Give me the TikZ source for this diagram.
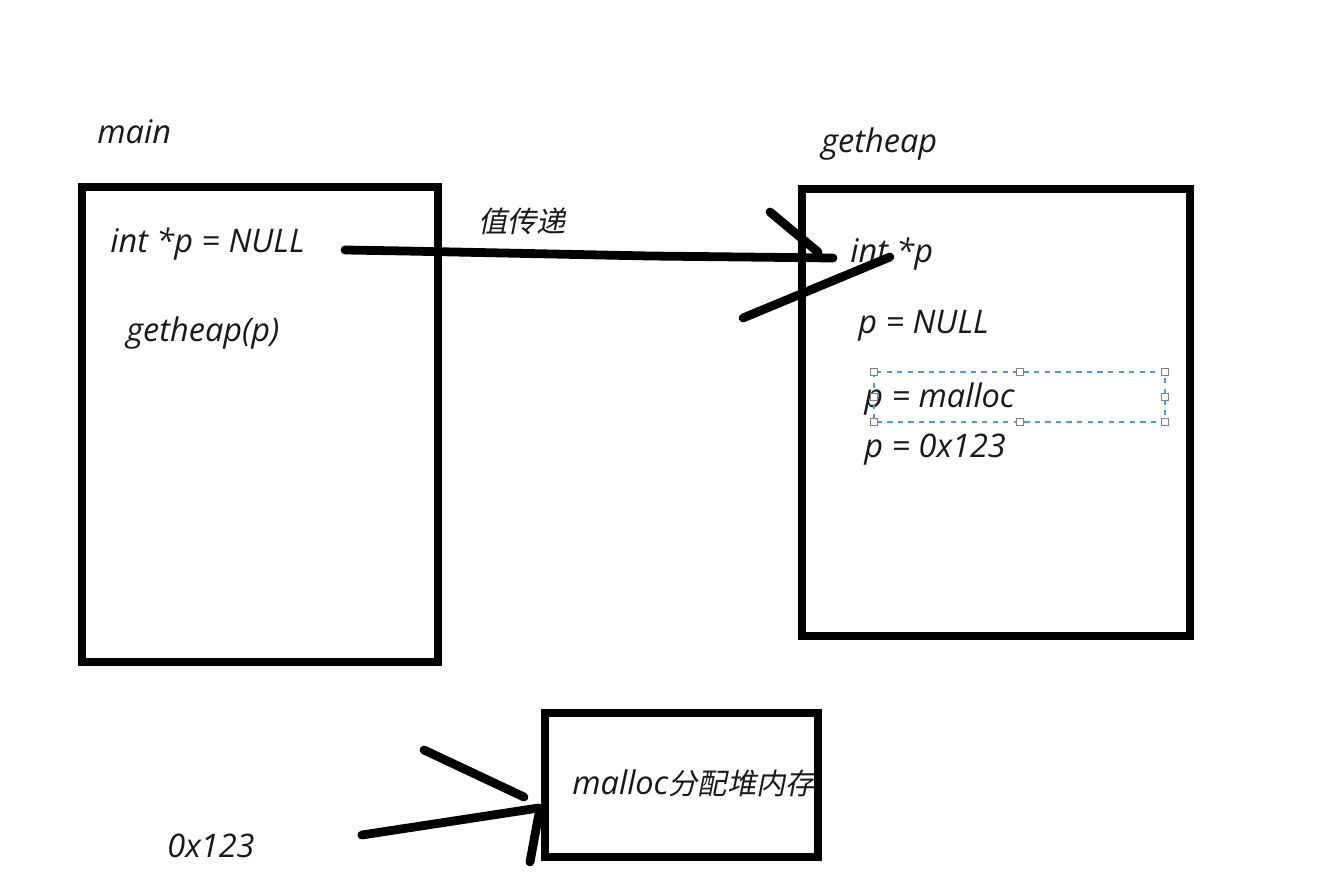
\documentclass[tikz,border=0pt]{standalone}
\usepackage{fontspec}
\setmainfont{Open Sans}
\newfontfamily\cjk[FakeSlant=0.2,Scale=0.9]{Noto Sans CJK SC}
\usetikzlibrary{calc}

\tikzset{
  txt/.style={font=\itshape\fontsize{18.5}{22}\selectfont, text=black!90, inner sep=0pt, anchor=west},
  frame/.style={draw, line width=5pt, inner sep=0pt},
  stroke/.style={line width=5pt, line cap=round, line join=round},
  handle/.style={draw=gray, fill=white, line width=0.5pt, minimum size=4pt, inner sep=0pt}
}

\begin{document}
\begin{tikzpicture}[x=0.02cm,y=-0.02cm]
  \useasboundingbox (0,0) rectangle (1340,882);

  % frames
  \node (mainbox) [frame, minimum width=7.12cm, minimum height=9.5cm] at (260,424.5) {};
  \node (getbox) [frame, minimum width=7.76cm, minimum height=8.94cm] at (996,412.5) {};

  % titles
  \node (mainlbl) [txt] at (97,132) {main};
  \node (getlbl) [txt] at (821,144) {getheap};

  % main
  \node (decl) [txt] at (110,244) {int *p = NULL};
  \node (call) [txt] at (126,333) {getheap(p)};

  % getheap
  \node (arg) [txt] at (850,254) {int *p};
  \node (pnull) [txt] at (858,326) {p = NULL};
  \node (pmal) [txt] at (864,399) {p = malloc};
  \node (paddr) [txt] at (864,450) {p = 0x123};

  % selection box
  \draw[cyan!60!blue!70, dashed, line width=0.8pt] (874,372) rectangle (1165,422);
  \foreach \x/\y in {874/372,1020/372,1165/372,874/397,1165/397,874/422,1020/422,1165/422}
    \node[handle] at (\x,\y) {};

  % heap
  \begin{scope}
    \clip (545,713) rectangle (818,857);
    \node (heaptxt) [txt] at (572,783) {malloc{\cjk 分配堆内存}};
  \end{scope}
  \node (heapbox) [frame, minimum width=5.46cm, minimum height=2.88cm] at (681.5,785) {};
  \node (addr) [txt] at (167,846) {0x123};

  \node (pass) [txt] at (478,221) {{\cjk 值传递}};

  % value passing arrow
  \coordinate (a0) at ($(decl.east)+(40,6)$);
  \coordinate (a1) at ($(arg.west)+(-17,4)$);
  \draw[stroke] (a0) -- (405,251) -- (650,256) -- (a1);
  \draw[stroke] (770,212) -- ($(a1)+(-15,-6)$);
  \draw[stroke] (743,318) -- (890,257);

  % heap arrow
  \coordinate (b0) at ($(addr.east)+(107,-11)$);
  \coordinate (b1) at ($(heapbox.west)+(-2,23)$);
  \draw[stroke] (b0) -- (b1);
  \draw[stroke] (424,750) -- (524,797);
  \draw[stroke] (530,862) -- ($(b1)+(0,7)$);
\end{tikzpicture}
\end{document}
